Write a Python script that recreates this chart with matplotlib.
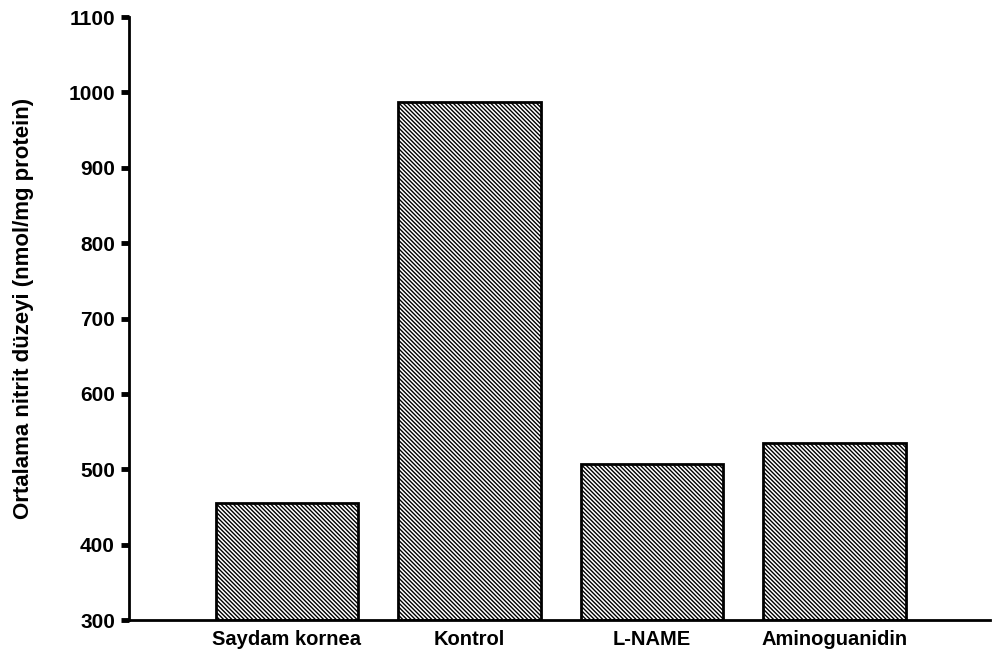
import matplotlib
matplotlib.use("Agg")
import matplotlib.pyplot as plt

categories = ["Saydam kornea", "Kontrol", "L-NAME", "Aminoguanidin"]
values = [455, 987, 507, 535]
yticks = [300, 400, 500, 600, 700, 800, 900, 1000, 1100]

plt.rcParams['font.family'] = ['Liberation Sans', 'DejaVu Sans']
plt.rcParams['hatch.linewidth'] = 1.0

fig = plt.figure(figsize=(10.06, 6.55), dpi=100)
ax = fig.add_axes([0.128, 0.0534, 0.856, 0.9206])

x = list(range(len(categories)))
ax.bar(x, [v - 300 for v in values], bottom=300, width=0.78,
       color="white", edgecolor="black", linewidth=2, hatch="\\" * 8)

ax.set_xlim(-0.866, 3.85)
ax.set_ylim(300, 1100)
ax.set_yticks(yticks)
ax.set_yticklabels([str(t) for t in yticks], fontsize=15, fontweight="bold")
ax.set_xticks(x)
ax.set_xticklabels(categories, fontsize=14.5, fontweight="bold")
ax.tick_params(axis="x", length=0, pad=7)
ax.tick_params(axis="y", length=6, width=3.5, direction="out", pad=4)

for s in ["top", "right"]:
    ax.spines[s].set_visible(False)
ax.spines["left"].set_linewidth(2)
ax.spines["bottom"].set_linewidth(2)

ax.set_ylabel("Ortalama nitrit düzeyi (nmol/mg protein)", fontsize=16, fontweight="bold")
ax.yaxis.set_label_coords(-0.11, 0.517)

fig.savefig("out.png", dpi=100)
